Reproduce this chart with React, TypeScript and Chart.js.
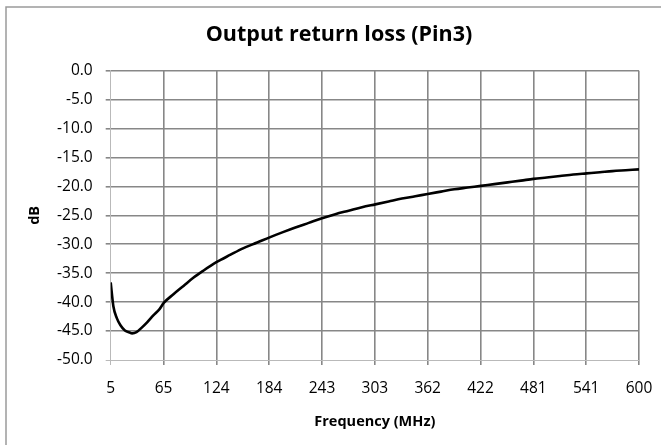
import React, { useEffect, useRef } from "react";
import { Chart, registerables } from "chart.js";

Chart.register(...registerables);

const chartTitle = "Output return loss (Pin3)";
const xAxisTitle = "Frequency (MHz)";
const yAxisTitle = "dB";

// Frequency (MHz) of each read sample
const frequencies = [
  5, 8, 12, 16, 21, 27, 29, 34, 40, 46, 53, 60, 65, 76, 87, 98, 109, 124, 140,
  154, 170, 184, 199, 213, 228, 243, 258, 273, 288, 303, 318, 333, 348, 362,
  377, 392, 407, 422, 437, 452, 467, 481, 496, 511, 526, 541, 556, 570, 585, 600,
];

// Return loss (dB) at each frequency
const returnLoss = [
  -36.6, -40.7, -42.8, -44.0, -44.9, -45.3, -45.4, -45.2, -44.4, -43.5, -42.3,
  -41.2, -40.1, -38.6, -37.2, -35.8, -34.6, -33.1, -31.8, -30.7, -29.7, -28.8,
  -27.9, -27.1, -26.3, -25.5, -24.8, -24.2, -23.6, -23.1, -22.6, -22.1, -21.7,
  -21.3, -20.9, -20.5, -20.2, -19.9, -19.6, -19.3, -19.0, -18.7, -18.45, -18.2,
  -17.95, -17.75, -17.55, -17.35, -17.2, -17.05,
];

// Category-style tick positions and their labels on the x axis
const xTickValues = [5, 64.5, 124, 183.5, 243, 302.5, 362, 421.5, 481, 540.5, 600];
const xTickLabels = ["5", "65", "124", "184", "243", "303", "362", "422", "481", "541", "600"];

const yMin = -50;
const yMax = 0;
const yStep = 5;

const GRID_DARK = "#878787";
const GRID_LIGHT = "#b9b9b9";

const frameBorder = {
  id: "frameBorder",
  beforeDraw(chart: any) {
    const ctx = chart.ctx;
    ctx.save();
    ctx.strokeStyle = "#9a9a9a";
    ctx.lineWidth = 1.5;
    ctx.beginPath();
    ctx.moveTo(6, chart.height + 2);
    ctx.lineTo(6, 7);
    ctx.lineTo(chart.width + 2, 7);
    ctx.stroke();
    ctx.restore();
  },
};

export default function App() {
  const canvasRef = useRef<HTMLCanvasElement | null>(null);

  useEffect(() => {
    if (!canvasRef.current) return;
    const points = frequencies.map((f, i) => ({ x: f, y: returnLoss[i] }));
    const chart = new Chart(canvasRef.current, {
      type: "line",
      data: {
        datasets: [
          {
            label: "Return loss",
            data: points,
            borderColor: "#000000",
            borderWidth: 2.6,
            pointRadius: 0,
            cubicInterpolationMode: "monotone",
            fill: false,
          },
        ],
      },
      plugins: [frameBorder],
      options: {
        animation: false,
        responsive: true,
        maintainAspectRatio: false,
        layout: { padding: { left: 17, right: 0, top: 0, bottom: 0 } },
        plugins: {
          legend: { display: false },
          tooltip: { enabled: false },
          title: {
            display: true,
            text: chartTitle,
            color: "#000000",
            font: { family: "'Open Sans'", size: 21.5, weight: "bold" },
            padding: { top: 21.6, bottom: 23.3 },
          },
        },
        scales: {
          x: {
            type: "linear",
            min: 5,
            max: 600,
            afterBuildTicks: (scale: any) => {
              scale.ticks = xTickValues.map((v) => ({ value: v }));
            },
            afterFit: (scale: any) => {
              scale.height = 85;
              scale.paddingRight = 22;
            },
            ticks: {
              autoSkip: false,
              maxRotation: 0,
              padding: 14.2,
              color: "#000000",
              font: { family: "'Open Sans'", size: 15.5 },
              callback: (_v: any, i: number) => xTickLabels[i],
            },
            grid: {
              color: (c: any) => (c.tick && c.tick.value === 5 ? GRID_LIGHT : GRID_DARK),
              lineWidth: (c: any) => (c.tick && c.tick.value === 5 ? 1 : 1.6),
              tickLength: 5,
            },
            border: { display: true, color: GRID_LIGHT, width: 1 },
            title: {
              display: true,
              text: xAxisTitle,
              color: "#000000",
              font: { family: "'Open Sans'", size: 14.5, weight: "bold" },
              padding: { top: 0, bottom: 14.3 },
            },
          },
          y: {
            type: "linear",
            min: yMin,
            max: yMax,
            afterFit: (scale: any) => {
              scale.width = 93.7;
            },
            ticks: {
              stepSize: yStep,
              padding: 13,
              color: "#000000",
              font: { family: "'Open Sans'", size: 15.5 },
              callback: (v: any) => Number(v).toFixed(1),
            },
            grid: {
              color: (c: any) => (c.tick && c.tick.value === yMin ? GRID_LIGHT : GRID_DARK),
              lineWidth: (c: any) => (c.tick && c.tick.value === yMin ? 1 : 1.6),
              tickLength: 5,
            },
            border: { display: true, color: GRID_LIGHT, width: 1 },
            title: {
              display: true,
              text: yAxisTitle,
              color: "#000000",
              font: { family: "'Open Sans'", size: 14.5, weight: "bold" },
              padding: { top: 9.3, bottom: 0 },
            },
          },
        },
      },
    } as any);
    return () => chart.destroy();
  }, []);

  return (
    <div style={{ position: "absolute", left: 0, top: 0, width: 661, height: 445, background: "#ffffff" }}>
      <canvas ref={canvasRef} />
    </div>
  );
}
